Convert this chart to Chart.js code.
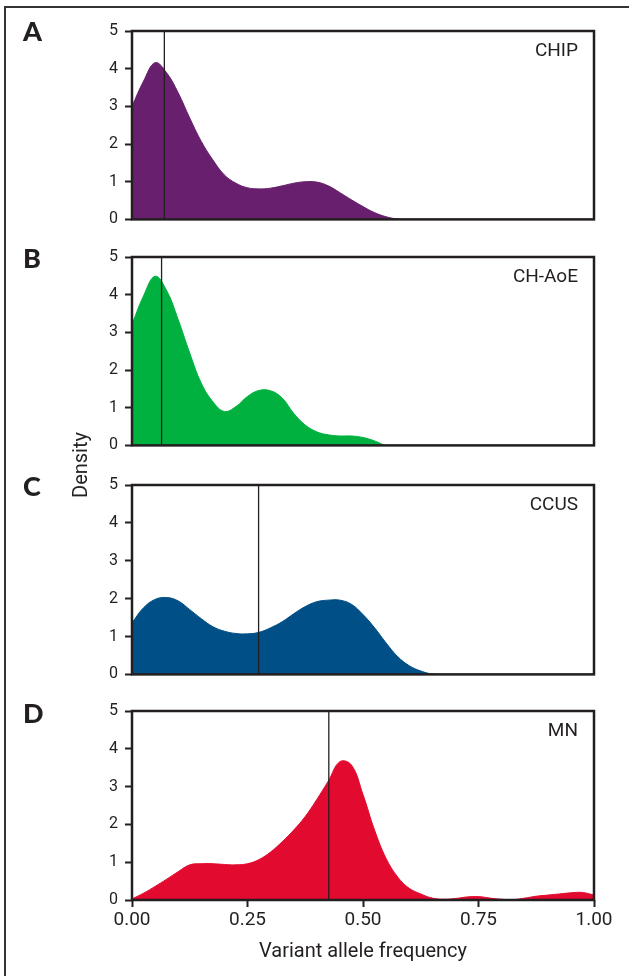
<!DOCTYPE html>
<html>
<head>
<meta charset="utf-8">
<script src="https://cdn.jsdelivr.net/npm/chart.js@4.4.1/dist/chart.umd.min.js"></script>
<style>
  body { margin: 0; background: #fff; }
  #page { position: relative; width: 629px; height: 976px; overflow: hidden; background: #fff; }
  #frame { position: absolute; left: 4px; top: 6px; width: 700px; height: 1000px;
           border-left: 2px solid #333; border-top: 2px solid #333; }
  .panel { position: absolute; left: 0; width: 629px; }
  .panel canvas { display: block; }
  .letter { position: absolute; left: 23px; font: 900 27px Lato, "Open Sans", sans-serif; color: #231f20; line-height: 1; }
  #ytitle { position: absolute; left: 80px; top: 465px; transform: translate(-50%, -50%) rotate(-90deg);
            font: 20px Roboto, sans-serif; color: #231f20; white-space: nowrap; }
</style>
</head>
<body>
<div id="page">
  <div id="frame"></div>
  <div class="panel" style="top:0"><canvas id="chartA" width="629" height="236"></canvas></div>
  <div class="panel" style="top:230px"><canvas id="chartB" width="629" height="232"></canvas></div>
  <div class="panel" style="top:458px"><canvas id="chartC" width="629" height="233"></canvas></div>
  <div class="panel" style="top:684px"><canvas id="chartD" width="629" height="292"></canvas></div>
  <div class="letter" style="top:17px">A</div>
  <div class="letter" style="top:244px">B</div>
  <div class="letter" style="top:472px">C</div>
  <div class="letter" style="top:699px">D</div>
  <div id="ytitle">Density</div>
</div>
<script>
// variant allele frequency grid (x values)
var vaf = [0, 0.025, 0.05, 0.075, 0.1, 0.125, 0.15, 0.175, 0.2, 0.225,
           0.25, 0.275, 0.3, 0.325, 0.35, 0.375, 0.4, 0.425, 0.45, 0.475,
           0.5, 0.525, 0.55, 0.575, 0.6, 0.625, 0.65, 0.675, 0.7, 0.725,
           0.75, 0.775, 0.8, 0.825, 0.85, 0.875, 0.9, 0.925, 0.95, 0.975, 1];

// density
var chip = [3.0, 3.67, 4.16, 3.89, 3.36, 2.69, 2.07, 1.58, 1.18, 0.96,
            0.84, 0.81, 0.83, 0.89, 0.96, 1.0, 0.99, 0.89, 0.71, 0.52,
            0.34, 0.18, 0.07, 0.01, 0, 0, 0, 0, 0, 0,
            0, 0, 0, 0, 0, 0, 0, 0, 0, 0, 0];
var chAoE = [3.21, 3.97, 4.49, 4.11, 3.34, 2.45, 1.65, 1.16, 0.90, 1.03,
             1.30, 1.46, 1.45, 1.26, 0.85, 0.54, 0.36, 0.28, 0.25, 0.25,
             0.21, 0.12, 0, 0, 0, 0, 0, 0, 0, 0,
             0, 0, 0, 0, 0, 0, 0, 0, 0, 0, 0];
var ccus = [1.36, 1.76, 1.98, 2.03, 1.94, 1.71, 1.47, 1.26, 1.14, 1.08,
            1.07, 1.11, 1.23, 1.39, 1.60, 1.79, 1.92, 1.96, 1.96, 1.85,
            1.58, 1.23, 0.83, 0.47, 0.23, 0.09, 0.01, 0, 0, 0,
            0, 0, 0, 0, 0, 0, 0, 0, 0, 0, 0];
var mn = [0.03, 0.18, 0.36, 0.55, 0.75, 0.93, 0.96, 0.96, 0.94, 0.93,
          0.96, 1.07, 1.27, 1.54, 1.85, 2.21, 2.66, 3.15, 3.66, 3.57,
          2.79, 1.85, 1.10, 0.61, 0.31, 0.16, 0.05, 0.02, 0.04, 0.08,
          0.09, 0.05, 0.02, 0.01, 0.05, 0.10, 0.13, 0.16, 0.19, 0.20, 0.13];

var names = ['CHIP', 'CH-AoE', 'CCUS', 'MN'];
var medians = [0.07, 0.064, 0.274, 0.426];
var colors = ['#68206e', '#00b140', '#004f86', '#e20a2f'];
var xTicks = [0, 0.25, 0.5, 0.75, 1];

var ink = '#231f20';
var tickFont = "Roboto, sans-serif";

// frame around the plot area + series name in the corner
var framePlugin = {
    id: 'frame',
    afterDraw: function (chart, args, opts) {
        var ctx = chart.ctx, a = chart.chartArea;
        ctx.save();
        ctx.strokeStyle = ink;
        ctx.lineWidth = 2.5;
        ctx.strokeRect(a.left, a.top, a.right - a.left, a.bottom - a.top);
        ctx.fillStyle = ink;
        ctx.font = '19px ' + tickFont;
        ctx.textAlign = 'right';
        ctx.textBaseline = 'middle';
        ctx.fillText(opts.name, a.right - 16, a.top + 20);
        ctx.restore();
    }
};

function panel(id, values, i, showX, padTop, padBottom) {
    var points = vaf.map(function (x, k) { return {x: x, y: values[k]}; });
    var ctx = document.getElementById(id).getContext('2d');
    return new Chart(ctx, {
        type: 'line',
        data: {
            datasets: [{
                data: points,
                fill: 'origin',
                backgroundColor: colors[i],
                borderColor: colors[i],
                borderWidth: 1,
                pointRadius: 0,
                tension: 0.4,
                order: 2
            }, {
                data: [{x: medians[i], y: 0}, {x: medians[i], y: 5}],
                fill: false,
                borderColor: ink,
                borderWidth: 1.3,
                pointRadius: 0,
                order: 1
            }]
        },
        options: {
            responsive: false,
            animation: false,
            events: [],
            layout: {padding: {left: 0, right: 35, top: padTop, bottom: padBottom}},
            plugins: {
                legend: {display: false},
                tooltip: {enabled: false},
                frame: {name: names[i]}
            },
            scales: {
                x: {
                    type: 'linear', min: 0, max: 1,
                    display: showX,
                    afterBuildTicks: function (s) { s.ticks = xTicks.map(function (v) { return {value: v}; }); },
                    ticks: {
                        callback: function (v) { return v.toFixed(2); },
                        font: {family: tickFont, size: 19},
                        color: ink, padding: 2, maxRotation: 0
                    },
                    grid: {drawOnChartArea: false, drawTicks: true, tickLength: 7, tickColor: ink, tickWidth: 2},
                    border: {display: false},
                    title: {
                        display: showX,
                        text: 'Variant allele frequency',
                        font: {family: tickFont, size: 20},
                        color: ink,
                        padding: {top: 0, bottom: 12}
                    },
                    afterFit: function (s) { if (showX) s.height = 76; }
                },
                y: {
                    min: 0, max: 5,
                    ticks: {stepSize: 1, autoSkip: false, font: {family: tickFont, size: 16}, color: ink, padding: 7},
                    grid: {drawOnChartArea: false, drawTicks: true, tickLength: 7, tickColor: ink, tickWidth: 2},
                    border: {display: false},
                    afterFit: function (s) { s.width = 132; }
                }
            }
        },
        plugins: [framePlugin]
    });
}

panel('chartA', chip, 0, false, 31, 7);
panel('chartB', chAoE, 1, false, 27, 10);
panel('chartC', ccus, 2, false, 27, 4);
panel('chartD', mn, 3, true, 27, 0);
</script>
</body>
</html>
